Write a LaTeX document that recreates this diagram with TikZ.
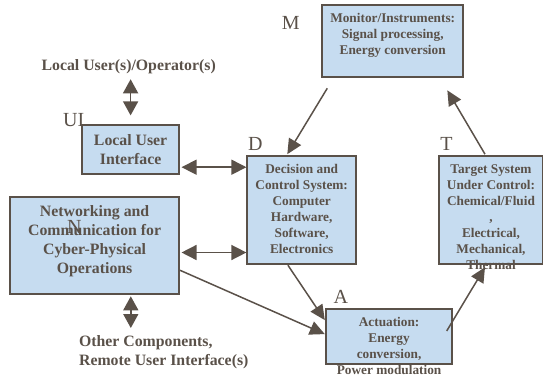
\documentclass[tikz,border=0pt]{standalone}
\usepackage{fontspec}
\setmainfont{Liberation Serif}
\usetikzlibrary{positioning,arrows.meta}
\definecolor{inkgray}{RGB}{90,81,73}
\definecolor{boxblue}{RGB}{198,220,240}
\newcommand{\smallbf}{\fontsize{13.3}{16}\selectfont\bfseries}
\newcommand{\largebf}{\fontsize{15.8}{19}\selectfont\bfseries}

\begin{document}
\begin{tikzpicture}[x=1pt, y=-1pt,
    block/.style={draw=inkgray, line width=2pt, fill=boxblue, inner sep=0pt},
    blocktext/.style={text=inkgray, align=center, inner sep=0pt, font=\smallbf},
    bigtext/.style={blocktext, font=\largebf},
    tag/.style={text=inkgray, inner sep=0pt, font=\fontsize{20}{24}\selectfont},
    link/.style={draw=inkgray, line width=1.5pt, -{Triangle[length=15pt,width=14pt]}},
    dbl/.style={draw=inkgray, line width=1.5pt, {Triangle[length=15pt,width=15pt]}-{Triangle[length=15pt,width=15pt]}},
    dblv/.style={draw=inkgray, line width=1.5pt, {Triangle[length=14pt,width=15pt]}-{Triangle[length=14pt,width=15pt]}}]
  \useasboundingbox (0,0) rectangle (543,378);

  % blocks
  \node[block, minimum width=140.5pt, minimum height=72.6pt] (mon) at (392.7,41) {};
  \node[block, minimum width=96.5pt, minimum height=48.2pt] (ui) at (130.6,149.5) {};
  \node[block, minimum width=108.6pt, minimum height=108pt] (d) at (301.7,210.2) {};
  \node[block, minimum width=168.5pt, minimum height=97pt] (n) at (94.6,245.8) {};
  \node[block, minimum width=103.2pt, minimum height=108pt] (t) at (491,210.2) {};
  \node[block, minimum width=125.6pt, minimum height=54.8pt] (a) at (389.1,336.1) {};

  % block texts
  \node[blocktext, below=9pt of mon.north] (montext) {Monitor/Instruments:\\Signal processing,\\Energy conversion};
  \node[bigtext, below=9.5pt of ui.north] (uitext) {Local User\\Interface};
  \node[blocktext, below=9pt of d.north] (dtext) {Decision and\\Control System:\\Computer\\Hardware,\\Software,\\Electronics};
  \node[bigtext, below=9.5pt of n.north] (ntext) {Networking and\\Communication for\\Cyber-Physical\\Operations};
  \node[blocktext, below=9pt of t.north] (ttext) {Target System\\Under Control:\\Chemical/Fluid\\,\\Electrical,\\Mechanical,\\Thermal};
  \node[blocktext, below=9.5pt of a.north] (atext) {Actuation:\\Energy\\conversion,\\Power modulation};

  % outside labels
  \node[bigtext] (users) at (128.7,66.9) {Local User(s)/Operator(s)};
  \node[bigtext, align=left, anchor=north west] (other) at (78.9,335) {Other Components,\\Remote User Interface(s)};

  % letters
  \node[tag] (mtag) at (290.7,22.7) {M};
  \node[tag] (uitag) at (73.7,120.4) {UI};
  \node[tag] (dtag) at (255.4,143.8) {D};
  \node[tag] (ttag) at (446.4,143.8) {T};
  \node[tag] (atag) at (340.8,297) {A};
  \node[tag] (ntag) at (74.4,227.4) {N};

  % connectors
  \draw[dblv, shorten <=5pt, shorten >=9pt] (ui.north |- users.south) -- (ui.north);
  \coordinate (uiport) at ([shift={(1.7,17.7)}]ui.east);
  \draw[dbl] (uiport) -- (uiport -| d.west);
  \coordinate (nport) at ([shift={(1.7,6.7)}]n.east);
  \draw[dbl] (nport) -- (nport -| d.west);
  \coordinate (ndown) at ([shift={(36.2,1)}]n.south);
  \draw[dblv, shorten >=7pt] (ndown) -- (ndown |- other.north);
  \coordinate (monout) at ([shift={(5.8,10)}]mon.south west);
  \draw[link] (monout) -- ([shift={(-14.4,-1)}]d.north);
  \coordinate (tout) at ([shift={(-6,-1)}]t.north);
  \draw[link] (tout) -- ([shift={(-16.6,12)}]mon.south east);
  \draw[link] ([shift={(-13.8,0)}]d.south) -- ([shift={(-0.5,-16)}]a.west);
  \draw[link] ([shift={(0,24.4)}]n.east) -- ([shift={(-0.5,-2)}]a.west);
  \draw[link] ([shift={(-6.2,23.3)}]a.north east) -- ([shift={(-6,2)}]t.south);
\end{tikzpicture}
\end{document}
